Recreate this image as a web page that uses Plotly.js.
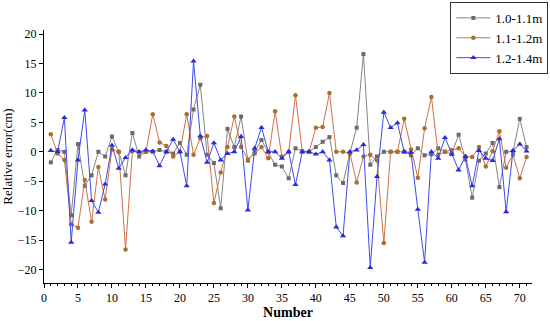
<!DOCTYPE html>
<html>
<head>
<meta charset="utf-8">
<script src="https://cdn.plot.ly/plotly-3.0.1.min.js"></script>
<style>html,body{margin:0;padding:0;background:#fff;}#chart{width:550px;height:321px;}</style>
</head>
<body>
<div id="chart"></div>
<script>
const numbers = Array.from({length: 71}, (_, i) => i + 1);
const seriesNames = ["1.0-1.1m", "1.1-1.2m", "1.2-1.4m"];
const series1 = [-1.8,0.3,0.0,-10.8,1.3,-5.8,-4.0,0.0,-0.8,2.6,0.0,-4.0,3.2,-0.8,0.0,0.0,0.3,0.0,-0.3,1.5,-0.5,7.2,11.4,-0.5,-1.9,-9.6,3.9,0.8,6.0,-1.5,0.0,2.0,0.0,-2.2,-2.5,-4.5,0.6,0.1,0.0,0.8,1.7,2.5,-4.0,-5.3,-0.3,4.1,16.6,-2.2,-0.8,0.0,0.0,0.0,0.0,-0.6,0.6,-0.6,-0.4,0.6,0.0,-0.4,2.9,-1.3,-7.8,-1.5,-0.3,1.5,-6.0,0.0,0.0,5.6,0.8];
const series2 = [3.0,-0.3,-1.4,-12.3,-12.9,-4.8,-11.9,-2.6,-8.1,0.4,0.0,-16.6,0.1,-0.1,0.0,6.4,1.6,1.0,-0.8,0.0,6.4,-0.5,2.3,2.7,-8.7,-3.5,0.8,6.0,0.8,-1.3,-0.3,0.8,-1.1,6.9,-0.8,0.0,9.6,0.0,0.0,4.1,4.2,10.0,0.0,0.0,-0.2,-5.2,-0.8,-0.5,-1.5,-15.5,0.0,0.0,5.6,0.4,-4.4,4.0,9.3,-0.5,0.0,0.3,0.6,-0.8,-0.9,0.8,-2.5,0.1,3.5,-2.7,-0.5,-4.5,-0.9];
const series3 = [0.2,0.0,5.8,-15.4,-1.4,7.1,-8.3,-10.3,-5.5,1.1,-2.8,-1.0,0.3,0.0,0.3,0.1,-2.4,0.0,2.1,0.0,-5.8,15.4,2.7,-1.8,1.5,-1.4,-0.3,0.0,2.6,-9.9,0.6,4.1,0.0,0.0,-1.1,0.0,-5.6,0.0,0.0,-0.4,0.0,-1.4,-12.8,-14.3,0.0,0.3,1.2,-19.7,-4.2,6.7,4.1,4.9,0.0,-0.1,-9.8,-18.8,0.0,-1.1,2.4,-0.4,-3.1,-0.8,-5.8,0.2,-1.1,-1.5,2.2,-10.2,0.2,1.3,0.1];

const font = "'Liberation Serif', 'Times New Roman', serif";
const traces = [
  {x: numbers, y: series1, name: seriesNames[0], type: "scatter", mode: "lines+markers",
   line: {color: "#858585", width: 1}, marker: {symbol: "square", size: 4, color: "#6a6a6a"}},
  {x: numbers, y: series2, name: seriesNames[1], type: "scatter", mode: "lines+markers",
   line: {color: "#d0704a", width: 1}, marker: {symbol: "circle", size: 4.5, color: "#a8702e"}},
  {x: numbers, y: series3, name: seriesNames[2], type: "scatter", mode: "lines+markers",
   line: {color: "#3a4cf0", width: 1}, marker: {symbol: "triangle-up", size: 5.5, color: "#2a2ad8"}}
];

const layout = {
  width: 550, height: 321,
  margin: {l: 44, r: 18, t: 30, b: 38, autoexpand: false},
  paper_bgcolor: "#fff", plot_bgcolor: "#fff",
  font: {family: font, size: 12, color: "#000"},
  showlegend: true,
  legend: {xref: "container", yref: "container", x: 0.997, xanchor: "right", y: 0.994, yanchor: "top",
    bordercolor: "#333", borderwidth: 1, bgcolor: "#fff",
    font: {family: font, size: 13, color: "#000"}, tracegroupgap: 0, itemwidth: 34},
  xaxis: {
    range: [0, 71.8], tickvals: [0,5,10,15,20,25,30,35,40,45,50,55,60,65,70],
    ticks: "outside", ticklen: 4, tickcolor: "#000", showline: true, linecolor: "#000", linewidth: 1,
    showgrid: false, zeroline: false,
    minor: {dtick: 1, tick0: 0, ticks: "outside", ticklen: 2, tickcolor: "#000"},
    tickfont: {family: font, size: 12},
    title: {text: "<b>Number</b>", font: {family: font, size: 14}, standoff: 2}
  },
  yaxis: {
    range: [-22.3, 20.7], tickvals: [-20,-15,-10,-5,0,5,10,15,20],
    ticktext: ["\u221220","\u221215","\u221210","\u22125","0","5","10","15","20"],
    ticks: "outside", ticklen: 4, tickcolor: "#000", showline: true, linecolor: "#000", linewidth: 1,
    showgrid: false, zeroline: false,
    tickfont: {family: font, size: 12},
    title: {text: "Relative error(cm)", font: {family: font, size: 13}, standoff: 4}
  }
};

Plotly.newPlot("chart", traces, layout, {displayModeBar: false, staticPlot: true});
</script>
</body>
</html>
